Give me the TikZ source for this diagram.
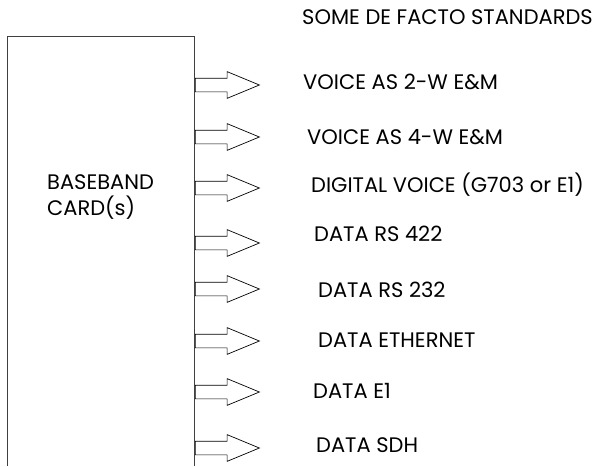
\documentclass[tikz,border=0pt]{standalone}
\usepackage{fontspec}
\setmainfont{Poppins}
\usetikzlibrary{shapes.arrows, positioning}
\tikzset{
  cardline/.style={line width=0.8pt, color=black!75},
  outarrow/.style={single arrow, draw=black, fill=white, line width=0.7pt,
    minimum height=64pt, minimum width=26pt, inner xsep=0pt, inner ysep=6.5pt,
    single arrow head extend=6.5pt, single arrow tip angle=45, anchor=west},
  stdlabel/.style={anchor=west, inner sep=0pt, font=\fontsize{21}{26}\selectfont}
}
\begin{document}
\begin{tikzpicture}[x=1pt,y=-1pt]
  \useasboundingbox (0,0) rectangle (604,466);

  % Baseband card (runs off the bottom)
  \draw[cardline] (7,466) -- (7,36) -- (194,36) -- (194,466);
  \node[stdlabel, align=left] (card) at (47,197) {BASEBAND\\CARD(s)};

  % Heading
  \node[stdlabel] (title) at (302,17) {SOME DE FACTO STANDARDS};

  % Interfaces out of the card
  \foreach \i/\ay/\tx/\ty/\txt in {
      1/85/303/82/{VOICE AS 2-W E\&M},
      2/137/307/137/{VOICE AS 4-W E\&M},
      3/188/311/185/{DIGITAL VOICE (G703 or E1)},
      4/243/314/234/{DATA RS 422},
      5/289/318/290/{DATA RS 232},
      6/341/318/340/{DATA ETHERNET},
      7/392/313/391/{DATA E1},
      8/448/316/445/{DATA SDH}} {
    \node[outarrow] (a\i) at (195,\ay) {};
    \node[stdlabel] (t\i) at (\tx,\ty) {\txt};
  }
\end{tikzpicture}
\end{document}
